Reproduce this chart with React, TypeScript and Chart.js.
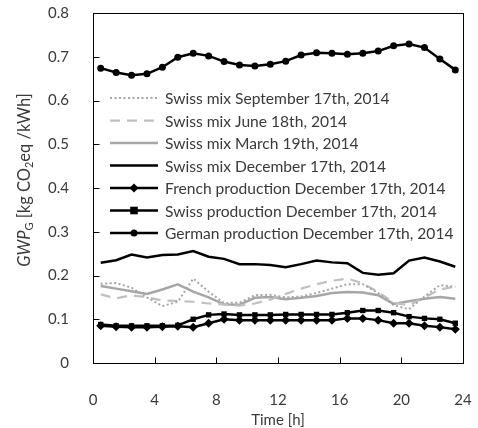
import React, { useEffect, useRef } from 'react';
import { Chart, registerables } from 'chart.js';
Chart.register(...registerables);

const hours = [0.5, 1.5, 2.5, 3.5, 4.5, 5.5, 6.5, 7.5, 8.5, 9.5, 10.5, 11.5, 12.5, 13.5, 14.5, 15.5, 16.5, 17.5, 18.5, 19.5, 20.5, 21.5, 22.5, 23.5];

const seriesLabels = [
  'Swiss mix September 17th, 2014',
  'Swiss mix June 18th, 2014',
  'Swiss mix March 19th, 2014',
  'Swiss mix December 17th, 2014',
  'French production December 17th, 2014',
  'Swiss production December 17th, 2014',
  'German production December 17th, 2014',
];

const septMix = [0.181, 0.183, 0.172, 0.150, 0.130, 0.140, 0.193, 0.163, 0.137, 0.138, 0.155, 0.156, 0.150, 0.152, 0.160, 0.170, 0.180, 0.180, 0.160, 0.132, 0.123, 0.152, 0.178, 0.174];
const juneMix = [0.157, 0.148, 0.155, 0.150, 0.143, 0.142, 0.140, 0.136, 0.134, 0.131, 0.136, 0.145, 0.158, 0.170, 0.180, 0.188, 0.193, 0.182, 0.162, 0.138, 0.132, 0.150, 0.168, 0.175];
const marchMix = [0.176, 0.170, 0.164, 0.158, 0.168, 0.180, 0.163, 0.150, 0.134, 0.133, 0.149, 0.151, 0.146, 0.149, 0.153, 0.160, 0.162, 0.161, 0.155, 0.135, 0.141, 0.147, 0.151, 0.147];
const decMix = [0.229, 0.235, 0.248, 0.241, 0.247, 0.248, 0.256, 0.243, 0.238, 0.226, 0.226, 0.224, 0.219, 0.226, 0.234, 0.230, 0.228, 0.206, 0.202, 0.205, 0.234, 0.241, 0.232, 0.220];
const frenchProd = [0.085, 0.083, 0.082, 0.082, 0.083, 0.084, 0.082, 0.091, 0.100, 0.098, 0.098, 0.098, 0.098, 0.098, 0.098, 0.098, 0.102, 0.102, 0.098, 0.091, 0.091, 0.085, 0.082, 0.077];
const swissProd = [0.088, 0.085, 0.085, 0.085, 0.085, 0.086, 0.100, 0.110, 0.112, 0.110, 0.110, 0.110, 0.111, 0.111, 0.111, 0.111, 0.115, 0.120, 0.120, 0.115, 0.106, 0.102, 0.100, 0.091];
const germanProd = [0.674, 0.664, 0.658, 0.661, 0.676, 0.699, 0.708, 0.702, 0.689, 0.681, 0.679, 0.683, 0.690, 0.704, 0.709, 0.708, 0.706, 0.708, 0.713, 0.725, 0.729, 0.721, 0.695, 0.670];

const xTickValues = [0, 4, 8, 12, 16, 20, 24];
const yTickLabels = ['0', '0.1', '0.2', '0.3', '0.4', '0.5', '0.6', '0.7', '0.8'];
const xTitle = 'Time [h]';

const FONT = 'Lato';
const TEXT = '#3a3a3a';
const FS = 15;
const LFS = 15.6;
const TFS = 16.5;

function drawMarker(ctx: CanvasRenderingContext2D, style: string, r: number, x: number, y: number) {
  ctx.save();
  ctx.setLineDash([]);
  ctx.fillStyle = '#000';
  ctx.beginPath();
  if (style === 'circle') {
    ctx.arc(x, y, r, 0, Math.PI * 2);
  } else if (style === 'rect') {
    ctx.rect(x - r, y - r, 2 * r, 2 * r);
  } else if (style === 'rectRot') {
    ctx.moveTo(x, y - r);
    ctx.lineTo(x + r, y);
    ctx.lineTo(x, y + r);
    ctx.lineTo(x - r, y);
    ctx.closePath();
  }
  ctx.fill();
  ctx.restore();
}

export default function App() {
  const ref = useRef<HTMLCanvasElement>(null);
  useEffect(() => {
    const mk = (vals: number[]) => hours.map((h, i) => ({ x: h, y: vals[i] }));
    const styles = [
      { vals: septMix, color: '#a6a6a6', width: 2, dash: [2, 2.5], marker: '', r: 0 },
      { vals: juneMix, color: '#c0c0c0', width: 2.25, dash: [10, 7], marker: '', r: 0 },
      { vals: marchMix, color: '#a6a6a6', width: 2.5, dash: [], marker: '', r: 0 },
      { vals: decMix, color: '#000000', width: 2.5, dash: [], marker: '', r: 0 },
      { vals: frenchProd, color: '#000000', width: 2.5, dash: [], marker: 'rectRot', r: 4.5 },
      { vals: swissProd, color: '#000000', width: 2.5, dash: [], marker: 'rect', r: 3.8 },
      { vals: germanProd, color: '#000000', width: 2.5, dash: [], marker: 'circle', r: 3.5 },
    ];
    const datasets = styles.map((s, i) => ({
      label: seriesLabels[i],
      data: mk(s.vals),
      borderColor: s.color,
      backgroundColor: s.color,
      borderWidth: s.width,
      borderDash: s.dash,
      pointStyle: s.marker || 'circle',
      pointRadius: s.r,
      pointBorderWidth: 0,
      pointBackgroundColor: '#000',
      tension: 0,
    }));

    const decorPlugin = {
      id: 'decor',
      afterDraw(chart: any) {
        const { ctx, chartArea: a, scales } = chart;
        const L = Math.round(a.left) + 0.5;
        const R = Math.round(a.right) + 0.5;
        const T = Math.round(a.top) + 0.5;
        const B = Math.round(a.bottom) + 0.5;
        ctx.save();
        ctx.strokeStyle = '#000';
        ctx.lineWidth = 1;
        ctx.setLineDash([]);
        ctx.strokeRect(L, T, R - L, B - T);
        // inward ticks
        ctx.beginPath();
        xTickValues.forEach((v) => {
          const px = Math.round(scales.x.getPixelForValue(v)) + 0.5;
          ctx.moveTo(px, B);
          ctx.lineTo(px, B - 6);
        });
        yTickLabels.forEach((t) => {
          const py = Math.round(scales.y.getPixelForValue(parseFloat(t))) + 0.5;
          ctx.moveTo(L, py);
          ctx.lineTo(L + 6, py);
        });
        ctx.stroke();

        // legend
        const lx0 = 110, lx1 = 158, tx = 165, ly0 = 98, step = 22.5;
        styles.forEach((s, i) => {
          const y = ly0 + i * step;
          ctx.save();
          ctx.strokeStyle = s.color;
          ctx.lineWidth = s.width;
          ctx.setLineDash(s.dash);
          ctx.beginPath();
          ctx.moveTo(lx0, y);
          ctx.lineTo(lx1, y);
          ctx.stroke();
          ctx.restore();
          if (s.marker) drawMarker(ctx, s.marker, s.r, (lx0 + lx1) / 2, y);
          ctx.fillStyle = TEXT;
          ctx.font = `${LFS}px ${FONT}`;
          ctx.textBaseline = 'middle';
          ctx.textAlign = 'left';
          ctx.fillText(seriesLabels[i], tx, y + 1);
        });

        // y title with italic / subscripts
        const pieces = [
          { t: 'GWP', f: `italic ${TFS}px ${FONT}`, dy: 0 },
          { t: 'G', f: `11px ${FONT}`, dy: 4.5 },
          { t: ' [kg CO', f: `${TFS}px ${FONT}`, dy: 0 },
          { t: '2', f: `11px ${FONT}`, dy: 4.5 },
          { t: 'eq /kWh]', f: `${TFS}px ${FONT}`, dy: 0 },
        ];
        let total = 0;
        const widths = pieces.map((p) => {
          ctx.font = p.f;
          const w = ctx.measureText(p.t).width;
          total += w;
          return w;
        });
        ctx.translate(25, 180);
        ctx.rotate(-Math.PI / 2);
        ctx.textBaseline = 'middle';
        ctx.textAlign = 'left';
        ctx.fillStyle = TEXT;
        let x = -total / 2;
        pieces.forEach((p, i) => {
          ctx.font = p.f;
          ctx.fillText(p.t, x, p.dy);
          x += widths[i];
        });
        ctx.restore();
      },
    };

    const chart = new Chart(ref.current as HTMLCanvasElement, {
      type: 'line',
      data: { datasets: datasets as any },
      options: {
        animation: false,
        responsive: true,
        maintainAspectRatio: false,
        layout: { padding: { left: 0, top: 13, right: 15, bottom: 0 } },
        plugins: { legend: { display: false }, tooltip: { enabled: false } },
        scales: {
          x: {
            type: 'linear',
            min: 0,
            max: 24,
            grid: { display: false },
            border: { display: false },
            ticks: {
              stepSize: 4,
              maxRotation: 0,
              padding: 20,
              color: TEXT,
              font: { family: FONT, size: FS },
            },
            title: {
              display: true,
              text: xTitle,
              color: TEXT,
              font: { family: FONT, size: FS },
              padding: { top: 0, bottom: -1 },
            },
            afterFit: (s: any) => {
              s.height = 65;
              s.paddingLeft = 0;
              s.paddingRight = 0;
            },
          },
          y: {
            type: 'linear',
            min: 0,
            max: 0.8,
            grid: { display: false },
            border: { display: false },
            ticks: {
              stepSize: 0.1,
              padding: 16,
              color: TEXT,
              font: { family: FONT, size: FS },
              callback: (_v: any, i: number) => yTickLabels[i],
            },
            afterFit: (s: any) => {
              s.width = 93;
              s.paddingTop = 0;
              s.paddingBottom = 0;
            },
          },
        },
      },
      plugins: [decorPlugin],
    });
    return () => chart.destroy();
  }, []);
  return (
    <div style={{ position: 'fixed', left: 0, top: 0, width: 478, height: 428, background: '#fff' }}>
      <canvas ref={ref} />
    </div>
  );
}
